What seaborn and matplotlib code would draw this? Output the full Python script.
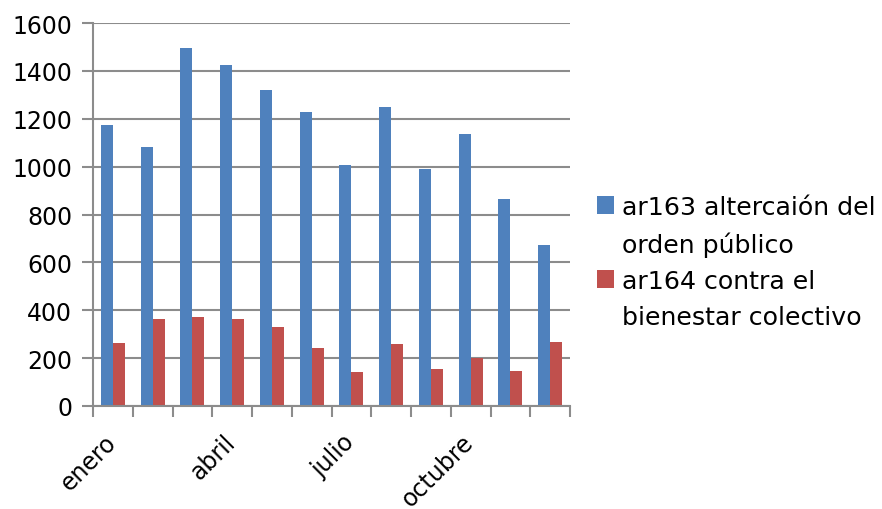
import matplotlib
matplotlib.use("Agg")
import matplotlib.pyplot as plt
import matplotlib.transforms as mtransforms
from matplotlib.patches import Patch
import seaborn as sns
import pandas as pd
import numpy as np

months = ["enero", "febrero", "marzo", "abril", "mayo", "junio", "julio",
          "agosto", "septiembre", "octubre", "noviembre", "diciembre"]
tick_labels = ["enero", "", "", "abril", "", "", "julio", "", "", "octubre", "", ""]
series_names = ["ar163 altercaión del orden público", "ar164 contra el bienestar colectivo"]
legend_lines = [["ar163 altercaión del", "orden público"],
                ["ar164 contra el", "bienestar colectivo"]]
ar163 = [1174, 1082, 1496, 1425, 1320, 1229, 1007, 1249, 991, 1137, 865, 673]
ar164 = [264, 365, 373, 365, 331, 243, 143, 260, 156, 199, 147, 269]
colors = ["#4F81BD", "#C0504D"]

df = pd.DataFrame({
    "mes": months * 2,
    "serie": [series_names[0]] * 12 + [series_names[1]] * 12,
    "valor": ar163 + ar164,
})

sns.set_style("white")
plt.rcParams["font.family"] = ["DejaVu Sans"]
plt.rcParams["text.color"] = "black"
plt.rcParams["xtick.labelcolor"] = "black"
plt.rcParams["ytick.labelcolor"] = "black"

fig = plt.figure(figsize=(8.82, 5.10), dpi=100)
ax = fig.add_axes([93 / 882, 1 - 407 / 510, (570 - 93) / 882, (407 - 24) / 510])

sns.barplot(data=df, x="mes", y="valor", hue="serie", order=months,
            hue_order=series_names, palette=colors, width=0.6,
            saturation=1, ax=ax, edgecolor="none", linewidth=0, legend=False)

grid_c = "#8c8c8c"
ax.set_ylim(0, 1600)
ax.set_xlim(-0.5, 11.5)
ax.set_yticks(np.arange(0, 1601, 200))
ax.yaxis.grid(True, color=grid_c, linewidth=1.5)
ax.set_axisbelow(True)
for s in ["top", "right"]:
    ax.spines[s].set_visible(False)
for s in ["left", "bottom"]:
    ax.spines[s].set_color(grid_c)
    ax.spines[s].set_linewidth(1.5)

ax.tick_params(axis="y", which="major", length=8, width=1.5, color=grid_c,
               labelsize=17, pad=7, left=True)
ax.set_xticks(range(12))
ax.set_xticklabels(tick_labels, rotation=45, ha="right", rotation_mode="anchor",
                   fontsize=17)
ax.tick_params(axis="x", which="major", length=0, pad=14)
shift = mtransforms.ScaledTranslation(-9 / 100, -4 / 100, fig.dpi_scale_trans)
for lab in ax.get_xticklabels():
    lab.set_transform(lab.get_transform() + shift)
ax.set_xticks(np.arange(-0.5, 12, 1), minor=True)
ax.tick_params(axis="x", which="minor", length=8, width=1.5, color=grid_c, bottom=True)
ax.set_xlabel("")
ax.set_ylabel("")

handles, labels = [], []
for c, lines in zip(colors, legend_lines):
    handles.append(Patch(facecolor=c, edgecolor="none"))
    labels.append(lines[0])
    handles.append(Patch(facecolor="none", edgecolor="none"))
    labels.append(lines[1])

leg = ax.legend(handles, labels, loc="upper left",
                bbox_to_anchor=(597 / 882, 1 - 196 / 510),
                bbox_transform=fig.transFigure, frameon=False, fontsize=18.2,
                handlelength=0.68, handleheight=0.68, handletextpad=0.32,
                labelspacing=0.48, borderaxespad=0, borderpad=0)

fig.savefig("out.png", dpi=100)
